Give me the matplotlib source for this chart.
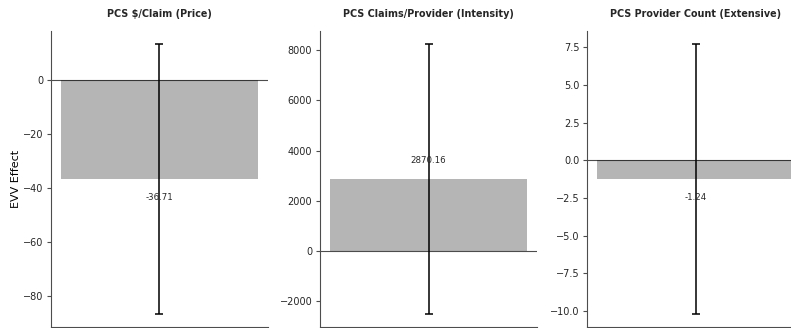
import matplotlib
matplotlib.use("Agg")
import matplotlib.pyplot as plt

# EVV effect estimates for the three PCS decomposition outcomes
titles = [
    "PCS $/Claim (Price)",
    "PCS Claims/Provider (Intensity)",
    "PCS Provider Count (Extensive)",
]
effects = [-36.71, 2870.16, -1.24]
ci_half = [49.85, 5350.0, 8.92]

plt.rcParams["text.color"] = "0.15"
plt.rcParams["ytick.labelcolor"] = "0.15"

fig = plt.figure(figsize=(7.91, 3.28), dpi=100)
lefts = [51 / 791, 320 / 791, 587 / 791]

for i, (title, est, err) in enumerate(zip(titles, effects, ci_half)):
    ax = fig.add_axes([lefts[i], 1 / 328, 217 / 791, 296 / 328])
    ax.bar([0], [est], width=0.8, color="gray", alpha=0.58)
    ax.errorbar([0], [est], yerr=[err], fmt="none", ecolor="black",
                elinewidth=1.1, capsize=3, capthick=1.1)
    ax.axhline(0, color="black", linewidth=0.8, alpha=0.7)

    offset = 10 if est > 0 else -10
    ax.annotate(f"{est:.2f}", xy=(0, est), xytext=(0, offset),
                textcoords="offset points", ha="center",
                va="bottom" if est > 0 else "top", fontsize=6.2)

    ax.set_title(title, fontsize=6.9, fontweight="bold", pad=10)
    ax.set_xticks([])
    ax.tick_params(axis="y", labelsize=7, length=3, pad=2.5, color="0.3")
    for side in ("left", "bottom"):
        ax.spines[side].set_color("0.3")
    ax.spines["top"].set_visible(False)
    ax.spines["right"].set_visible(False)
    if i == 0:
        ax.set_ylabel("EVV Effect", fontsize=8, labelpad=1.5)

fig.savefig("out.png", dpi=100)
